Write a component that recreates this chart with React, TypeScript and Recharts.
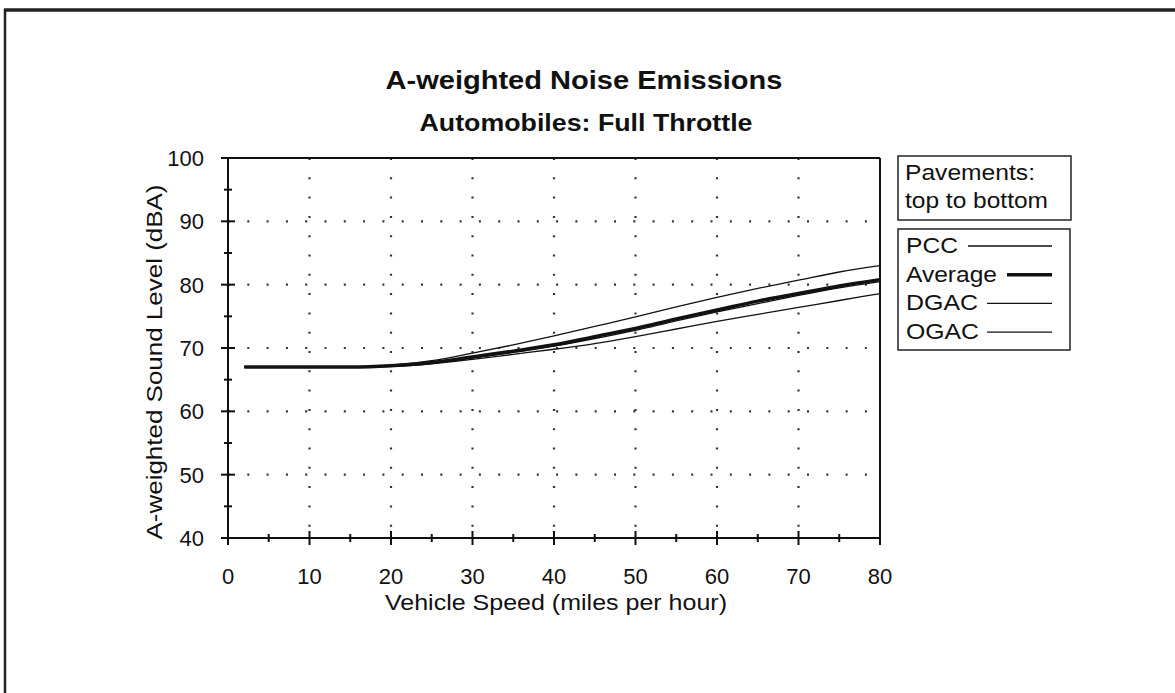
import { LineChart, Line, XAxis, YAxis, CartesianGrid, ReferenceLine } from 'recharts'

// speed (mph) vs A-weighted level (dBA)
const speeds = [2, 5, 10, 15, 20, 25, 30, 35, 40, 45, 50, 55, 60, 65, 70, 75, 80]
const pcc = [67, 67, 67, 67, 67.3, 68.0, 69.2, 70.5, 71.9, 73.4, 74.9, 76.5, 78.0, 79.4, 80.7, 82.0, 83.0]
const average = [67, 67, 67, 67, 67.2, 67.7, 68.6, 69.5, 70.5, 71.8, 73.1, 74.6, 76.0, 77.4, 78.6, 79.8, 80.8]
const dgac = [67, 67, 67, 67, 67.1, 67.6, 68.4, 69.3, 70.3, 71.5, 72.8, 74.3, 75.7, 77.0, 78.3, 79.5, 80.5]
const ogac = [67, 67, 67, 67, 67.1, 67.5, 68.2, 69.0, 69.8, 70.7, 71.8, 73.0, 74.2, 75.3, 76.4, 77.5, 78.6]

const xTicks = [0, 5, 10, 15, 20, 25, 30, 35, 40, 45, 50, 55, 60, 65, 70, 75, 80]
const yTicks = [40, 45, 50, 55, 60, 65, 70, 75, 80, 85, 90, 95, 100]
const xGrid = [10, 20, 30, 40, 50, 60, 70]
const yGrid = [50, 60, 70, 80, 90]

const legendItems = [
  { name: 'PCC', w: 1.3, len: 52, x1: 968 },
  { name: 'Average', w: 3.5, len: 91, x1: 1007 },
  { name: 'DGAC', w: 1.3, len: 72, x1: 987 },
  { name: 'OGAC', w: 1.3, len: 73, x1: 987 },
]

const data = speeds.map((s, i) => ({ speed: s, pcc: pcc[i], average: average[i], dgac: dgac[i], ogac: ogac[i] }))

const font = '"Liberation Sans", Arial, sans-serif'
const ink = '#111'

function XTick({ x, y, payload }: any) {
  const major = payload.value % 10 === 0
  const h = major ? 7 : 4
  return (
    <g>
      <line x1={x} x2={x} y1={y - h} y2={y + h} stroke={ink} strokeWidth={2} />
      {major && (
        <text x={x} y={y + 46} textAnchor="middle" fontFamily={font} fontSize={22} fill={ink}>
          {payload.value}
        </text>
      )}
    </g>
  )
}

function YTick({ x, y, payload }: any) {
  const major = payload.value % 10 === 0
  const h = major ? 7 : 4
  return (
    <g>
      <line x1={x - h} x2={x + h} y1={y} y2={y} stroke={ink} strokeWidth={2} />
      {major && (
        <text x={x - 24} y={y + 8} textAnchor="end" fontFamily={font} fontSize={22} fill={ink}>
          {payload.value}
        </text>
      )}
    </g>
  )
}

export default function App() {
  return (
    <div style={{ position: 'absolute', left: 0, top: 0, width: 1175, height: 693, background: '#fff' }}>
      <LineChart width={1175} height={693} data={data} margin={{ top: 158, right: 295, bottom: 95, left: 168 }}>
        <CartesianGrid horizontalValues={yGrid} verticalValues={xGrid} stroke="#333" strokeWidth={2.2} strokeDasharray="2 17.3" />
        <XAxis
          dataKey="speed"
          type="number"
          domain={[0, 80]}
          ticks={xTicks}
          interval={0}
          height={60}
          tickSize={0}
          tickMargin={0}
          tick={<XTick />}
          axisLine={{ stroke: ink, strokeWidth: 2 }}
        />
        <YAxis
          type="number"
          domain={[40, 100]}
          ticks={yTicks}
          interval={0}
          width={60}
          tickSize={0}
          tickMargin={0}
          tick={<YTick />}
          axisLine={{ stroke: ink, strokeWidth: 2 }}
        />
        <ReferenceLine y={100} stroke={ink} strokeWidth={2} />
        <ReferenceLine x={80} stroke={ink} strokeWidth={2} />
        <Line type="monotone" dataKey="pcc" stroke={ink} strokeWidth={1.3} dot={false} isAnimationActive={false} />
        <Line type="monotone" dataKey="dgac" stroke={ink} strokeWidth={1.3} dot={false} isAnimationActive={false} />
        <Line type="monotone" dataKey="ogac" stroke={ink} strokeWidth={1.3} dot={false} isAnimationActive={false} />
        <Line type="monotone" dataKey="average" stroke={ink} strokeWidth={3.5} dot={false} isAnimationActive={false} />
      </LineChart>

      <svg width={1175} height={693} style={{ position: 'absolute', left: 0, top: 0, pointerEvents: 'none' }}>
        {/* page frame */}
        <line x1={4} x2={1175} y1={10} y2={10} stroke="#222" strokeWidth={3.5} />
        <line x1={5} x2={5} y1={9} y2={693} stroke="#222" strokeWidth={2.5} />

        <text x={584} y={89} textAnchor="middle" fontFamily={font} fontWeight="bold" fontSize={25} fill={ink}
          textLength={397} lengthAdjust="spacingAndGlyphs">
          A-weighted Noise Emissions
        </text>
        <text x={586} y={131} textAnchor="middle" fontFamily={font} fontWeight="bold" fontSize={23} fill={ink}
          textLength={333} lengthAdjust="spacingAndGlyphs">
          Automobiles: Full Throttle
        </text>

        <text x={556} y={610} textAnchor="middle" fontFamily={font} fontSize={22} fill={ink}
          textLength={342} lengthAdjust="spacingAndGlyphs">
          Vehicle Speed (miles per hour)
        </text>
        <text x={162} y={362} transform="rotate(-90 162 362)" textAnchor="middle" fontFamily={font} fontSize={22} fill={ink}
          textLength={355} lengthAdjust="spacingAndGlyphs">
          A-weighted Sound Level (dBA)
        </text>

        {/* legend */}
        <rect x={898} y={156} width={173} height={64} fill="#fff" stroke="#222" strokeWidth={1.5} />
        <text x={905} y={180} fontFamily={font} fontSize={22} fill={ink} textLength={130} lengthAdjust="spacingAndGlyphs">Pavements:</text>
        <text x={905} y={208} fontFamily={font} fontSize={22} fill={ink} textLength={143} lengthAdjust="spacingAndGlyphs">top to bottom</text>

        <rect x={898} y={229} width={172} height={121} fill="#fff" stroke="#222" strokeWidth={1.5} />
        {legendItems.map((it, i) => (
          <g key={it.name}>
            <text x={906} y={253 + i * 28.7} fontFamily={font} fontSize={22} fill={ink}
              textLength={it.len} lengthAdjust="spacingAndGlyphs">{it.name}</text>
            <line x1={it.x1} x2={1052} y1={246 + i * 28.7} y2={246 + i * 28.7} stroke={ink} strokeWidth={it.w} />
          </g>
        ))}
      </svg>
    </div>
  )
}
